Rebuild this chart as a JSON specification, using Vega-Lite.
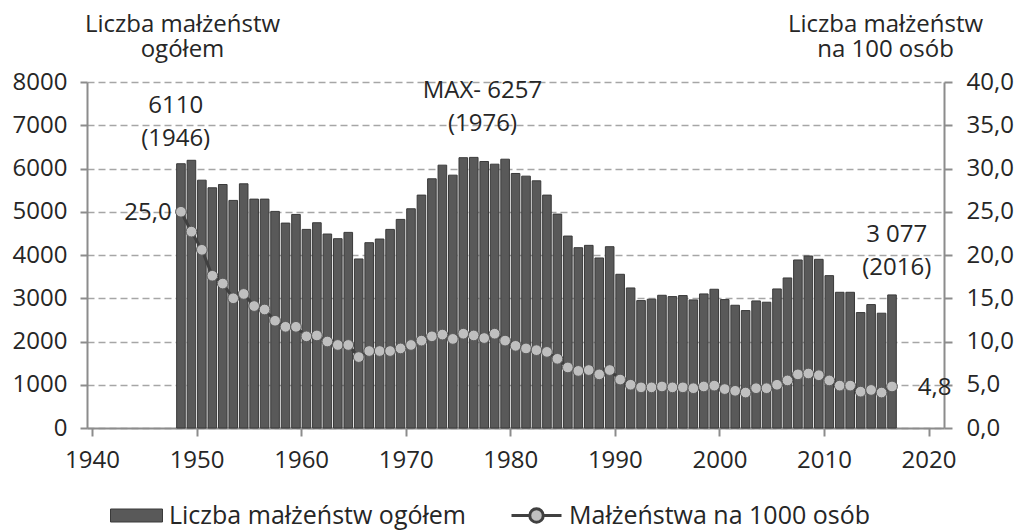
{
  "$schema": "https://vega.github.io/schema/vega-lite/v6.json",
  "width": 857,
  "height": 346,
  "autosize": {"type": "none"},
  "padding": {"left": 87, "top": 82, "right": 72, "bottom": 103},
  "background": "white",
  "config": {
    "font": "Open Sans",
    "view": {"stroke": null},
    "axis": {
      "labelFont": "Open Sans",
      "labelFontSize": 24,
      "labelColor": "#262626",
      "titleFont": "Open Sans",
      "titleFontSize": 24,
      "titleFontWeight": "normal",
      "titleColor": "#262626",
      "domainColor": "#8c8c8c",
      "domainWidth": 2,
      "tickColor": "#8c8c8c",
      "tickWidth": 2
    },
    "legend": {
      "labelFont": "Open Sans",
      "labelFontSize": 25,
      "labelColor": "#262626",
      "labelLimit": 600,
      "symbolOpacity": 1,
      "symbolStrokeWidth": 3
    },
    "text": {"font": "Open Sans", "fontSize": 24, "color": "#262626"}
  },
  "datasets": {
    "marriages": [
      {"year": 1948, "count": 6110, "rate": 25.0},
      {"year": 1949, "count": 6190, "rate": 22.7},
      {"year": 1950, "count": 5730, "rate": 20.6},
      {"year": 1951, "count": 5554, "rate": 17.6},
      {"year": 1952, "count": 5630, "rate": 16.7},
      {"year": 1953, "count": 5262, "rate": 15.0},
      {"year": 1954, "count": 5646, "rate": 15.5},
      {"year": 1955, "count": 5292, "rate": 14.1},
      {"year": 1956, "count": 5292, "rate": 13.7},
      {"year": 1957, "count": 5008, "rate": 12.4},
      {"year": 1958, "count": 4738, "rate": 11.7},
      {"year": 1959, "count": 4938, "rate": 11.7},
      {"year": 1960, "count": 4592, "rate": 10.6},
      {"year": 1961, "count": 4746, "rate": 10.7},
      {"year": 1962, "count": 4485, "rate": 10.0},
      {"year": 1963, "count": 4377, "rate": 9.6},
      {"year": 1964, "count": 4523, "rate": 9.6},
      {"year": 1965, "count": 3908, "rate": 8.2},
      {"year": 1966, "count": 4285, "rate": 8.9},
      {"year": 1967, "count": 4369, "rate": 8.9},
      {"year": 1968, "count": 4592, "rate": 8.9},
      {"year": 1969, "count": 4823, "rate": 9.2},
      {"year": 1970, "count": 5069, "rate": 9.6},
      {"year": 1971, "count": 5385, "rate": 10.1},
      {"year": 1972, "count": 5762, "rate": 10.6},
      {"year": 1973, "count": 6077, "rate": 10.8},
      {"year": 1974, "count": 5846, "rate": 10.3},
      {"year": 1975, "count": 6250, "rate": 10.9},
      {"year": 1976, "count": 6257, "rate": 10.7},
      {"year": 1977, "count": 6162, "rate": 10.4},
      {"year": 1978, "count": 6100, "rate": 10.9},
      {"year": 1979, "count": 6215, "rate": 10.1},
      {"year": 1980, "count": 5885, "rate": 9.5},
      {"year": 1981, "count": 5823, "rate": 9.2},
      {"year": 1982, "count": 5715, "rate": 9.0},
      {"year": 1983, "count": 5385, "rate": 8.8},
      {"year": 1984, "count": 4946, "rate": 8.0},
      {"year": 1985, "count": 4438, "rate": 7.0},
      {"year": 1986, "count": 4169, "rate": 6.6},
      {"year": 1987, "count": 4223, "rate": 6.7},
      {"year": 1988, "count": 3931, "rate": 6.2},
      {"year": 1989, "count": 4192, "rate": 6.7},
      {"year": 1990, "count": 3554, "rate": 5.6},
      {"year": 1991, "count": 3238, "rate": 5.0},
      {"year": 1992, "count": 2946, "rate": 4.7},
      {"year": 1993, "count": 2977, "rate": 4.7},
      {"year": 1994, "count": 3069, "rate": 4.8},
      {"year": 1995, "count": 3038, "rate": 4.7},
      {"year": 1996, "count": 3062, "rate": 4.7},
      {"year": 1997, "count": 2962, "rate": 4.6},
      {"year": 1998, "count": 3100, "rate": 4.8},
      {"year": 1999, "count": 3208, "rate": 4.9},
      {"year": 2000, "count": 2969, "rate": 4.5},
      {"year": 2001, "count": 2838, "rate": 4.3},
      {"year": 2002, "count": 2715, "rate": 4.1},
      {"year": 2003, "count": 2938, "rate": 4.6},
      {"year": 2004, "count": 2908, "rate": 4.6},
      {"year": 2005, "count": 3215, "rate": 5.0},
      {"year": 2006, "count": 3469, "rate": 5.5},
      {"year": 2007, "count": 3885, "rate": 6.2},
      {"year": 2008, "count": 3977, "rate": 6.3},
      {"year": 2009, "count": 3900, "rate": 6.1},
      {"year": 2010, "count": 3523, "rate": 5.5},
      {"year": 2011, "count": 3138, "rate": 4.9},
      {"year": 2012, "count": 3138, "rate": 4.9},
      {"year": 2013, "count": 2669, "rate": 4.2},
      {"year": 2014, "count": 2854, "rate": 4.4},
      {"year": 2015, "count": 2654, "rate": 4.1},
      {"year": 2016, "count": 3077, "rate": 4.8}
    ]
  },
  "encoding": {
    "x": {
      "field": "year",
      "type": "quantitative",
      "scale": {"domain": [1940, 2021], "nice": false, "zero": false},
      "axis": {
        "values": [1940, 1950, 1960, 1970, 1980, 1990, 2000, 2010, 2020],
        "format": "d",
        "grid": false,
        "title": null,
        "tickSize": 8,
        "labelPadding": 12
      }
    }
  },
  "layer": [
    {
      "encoding": {
        "y": {
          "field": "count",
          "type": "quantitative",
          "scale": {"domain": [0, 8000], "nice": false},
          "axis": {
            "orient": "left",
            "values": [0, 1000, 2000, 3000, 4000, 5000, 6000, 7000, 8000],
            "format": "d",
            "grid": true,
            "gridColor": "#a6a6a6",
            "gridDash": [7, 4],
            "gridWidth": 1.5,
            "tickSize": 7,
            "labelPadding": 13,
            "title": ["Liczba małżeństw", "ogółem"],
            "titleAngle": 0,
            "titleAlign": "center",
            "titleBaseline": "middle",
            "titleLineHeight": 25,
            "titleX": 95,
            "titleY": -58
          }
        }
      },
      "layer": [
        {
          "data": {"name": "marriages"},
          "mark": {"type": "bar", "width": 8.6, "xOffset": 5.3, "stroke": "#3a3a3a", "strokeWidth": 1},
          "encoding": {
            "fill": {
              "datum": "Liczba małżeństw ogółem",
              "type": "nominal",
              "scale": {"range": ["#595959"]},
              "legend": {
                "orient": "none",
                "legendX": 23,
                "legendY": 407,
                "title": null,
                "symbolType": "M-1,-0.25H1V0.25H-1Z",
                "symbolSize": 2704,
                "symbolStrokeColor": "#3a3a3a",
                "symbolStrokeWidth": 1,
                "labelOffset": 6
              }
            }
          }
        },
        {
          "data": {"values": [{"year": 1948, "count": 6110, "label": ["6110", "(1946)"]}]},
          "mark": {"type": "text", "align": "center", "baseline": "middle", "lineHeight": 33, "dx": 0, "dy": -58},
          "encoding": {"text": {"field": "label"}}
        },
        {
          "data": {"values": [{"year": 1976, "count": 6257, "label": ["MAX- 6257", "(1976)"]}]},
          "mark": {"type": "text", "align": "center", "baseline": "middle", "lineHeight": 33, "dx": 14, "dy": -66},
          "encoding": {"text": {"field": "label"}}
        },
        {
          "data": {"values": [{"year": 2016, "count": 3077, "label": ["3 077", "(2016)"]}]},
          "mark": {"type": "text", "align": "center", "baseline": "middle", "lineHeight": 33, "dx": 10, "dy": -60},
          "encoding": {"text": {"field": "label"}}
        }
      ]
    },
    {
      "encoding": {
        "y": {
          "field": "rate",
          "type": "quantitative",
          "scale": {"domain": [0, 40], "nice": false},
          "axis": {
            "orient": "right",
            "values": [0, 5, 10, 15, 20, 25, 30, 35, 40],
            "labelExpr": "replace(format(datum.value, '.1f'), '.', ',')",
            "grid": false,
            "tickSize": 8,
            "labelPadding": 14,
            "title": ["Liczba małżeństw", "na 100 osób"],
            "titleAngle": 0,
            "titleAlign": "center",
            "titleBaseline": "middle",
            "titleLineHeight": 25,
            "titleX": -59,
            "titleY": -58
          }
        }
      },
      "layer": [
        {
          "data": {"name": "marriages"},
          "mark": {"type": "line", "strokeWidth": 3, "xOffset": 5.3},
          "encoding": {
            "stroke": {
              "datum": "Małżeństwa na 1000 osób",
              "type": "nominal",
              "scale": {"range": ["#404040"]},
              "legend": {
                "orient": "none",
                "legendX": 423,
                "legendY": 407,
                "title": null,
                "symbolType": "M-1,0H-0.27M0.27,0H1M0.27,0A0.27,0.27 0 1 1 -0.27,0A0.27,0.27 0 1 1 0.27,0Z",
                "symbolSize": 2500,
                "symbolFillColor": "#bfbfbf",
                "symbolStrokeWidth": 3,
                "labelOffset": 6
              }
            }
          }
        },
        {
          "data": {"name": "marriages"},
          "mark": {"type": "point", "filled": true, "fill": "#bfbfbf", "stroke": "#595959", "strokeWidth": 1, "size": 115, "opacity": 1, "xOffset": 5.3},
          "encoding": {}
        },
        {
          "data": {"values": [{"year": 1948, "rate": 25.0, "label": "25,0"}]},
          "mark": {"type": "text", "align": "right", "baseline": "middle", "dx": -4, "dy": 1},
          "encoding": {"text": {"field": "label"}}
        },
        {
          "data": {"values": [{"year": 2016, "rate": 4.8, "label": "4,8"}]},
          "mark": {"type": "text", "align": "left", "baseline": "middle", "dx": 31, "dy": 2},
          "encoding": {"text": {"field": "label"}}
        }
      ]
    }
  ],
  "resolve": {"scale": {"y": "independent"}}
}
